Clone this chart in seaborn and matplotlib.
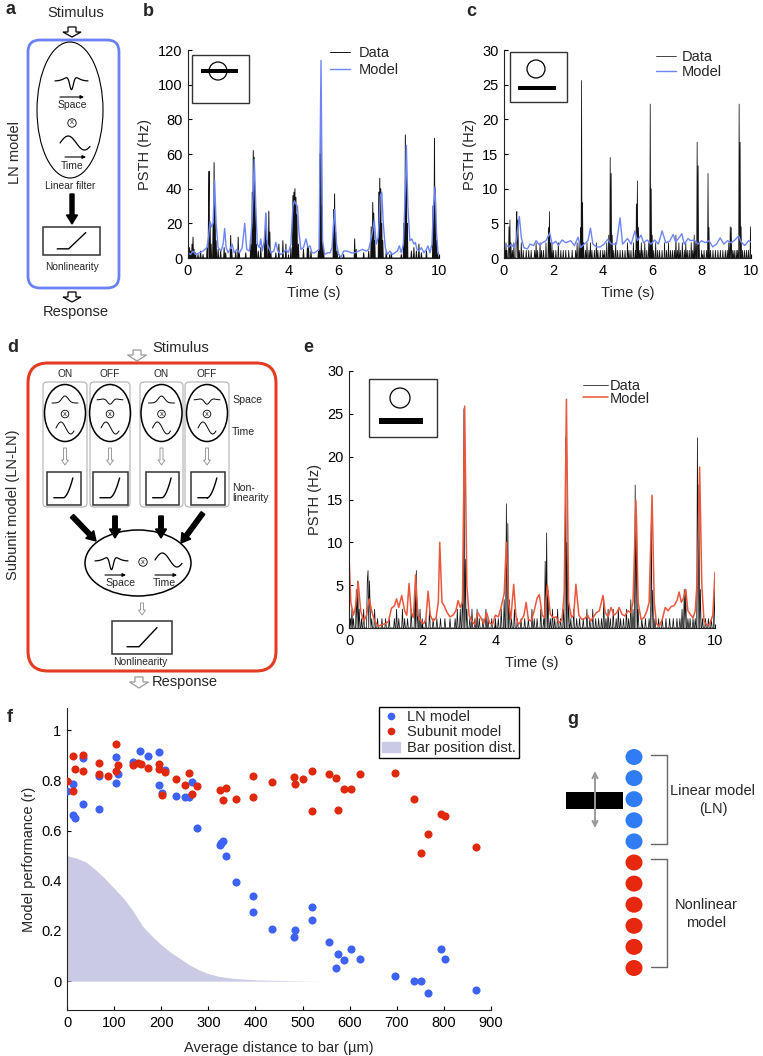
import numpy as np
import pandas as pd
import matplotlib
matplotlib.use("Agg")
import matplotlib.pyplot as plt
from matplotlib.patches import Ellipse, Circle, Rectangle, FancyBboxPatch, Polygon, FancyArrow, Patch
from matplotlib.lines import Line2D
import seaborn as sns

sns.set_theme(style="ticks")
plt.rcParams["font.family"] = ["Liberation Sans", "DejaVu Sans"]
plt.rcParams["axes.linewidth"] = 0.8

# ---------------- data ----------------
# b: bar crossing the receptive field, non-zero PSTH bins (s, Hz)
b_data = [(0.02, 5), (0.06, 6), (0.1, 4), (0.16, 8), (0.2, 12), (0.24, 5), (0.3, 3), (0.4, 2),
          (0.5, 4), (0.6, 2), (0.76, 6), (0.82, 30), (0.84, 50), (0.88, 20), (0.92, 8), (1.0, 20),
          (1.04, 55), (1.08, 30), (1.12, 10), (1.2, 5), (1.3, 4), (1.44, 6), (1.5, 3), (1.7, 13),
          (1.74, 5), (1.9, 4), (2.0, 12), (2.04, 3), (2.3, 3), (2.5, 8), (2.56, 38), (2.6, 62),
          (2.64, 58), (2.68, 30), (2.72, 8), (2.8, 4), (2.9, 6), (3.06, 12), (3.1, 25), (3.14, 10),
          (3.22, 27), (3.26, 15), (3.3, 4), (3.5, 3), (3.62, 8), (3.78, 10), (3.9, 8), (4.1, 6),
          (4.18, 36), (4.22, 38), (4.26, 40), (4.3, 35), (4.34, 25), (4.4, 8), (4.6, 5), (4.76, 8),
          (4.8, 6), (4.9, 4), (5.2, 4), (5.26, 60), (5.3, 78), (5.34, 30), (5.4, 5), (5.8, 28),
          (5.84, 37), (5.88, 15), (5.94, 4), (6.2, 2), (6.64, 11), (6.7, 5), (7.0, 3), (7.2, 4),
          (7.3, 18), (7.36, 32), (7.4, 26), (7.44, 10), (7.6, 38), (7.64, 46), (7.68, 40), (7.72, 20),
          (7.76, 10), (7.9, 4), (8.1, 3), (8.5, 2), (8.6, 20), (8.66, 71), (8.7, 50), (8.74, 20),
          (8.9, 4), (9.0, 6), (9.1, 4), (9.2, 8), (9.3, 3), (9.5, 4), (9.76, 30), (9.82, 69),
          (9.86, 40), (9.9, 10), (9.96, 3)]
b_model = [(0, 3), (0.1, 2), (0.2, 4), (0.3, 2), (0.45, 3), (0.6, 4), (0.75, 6), (0.82, 12), (0.88, 21),
           (0.94, 18), (1.0, 20), (1.06, 45), (1.12, 20), (1.2, 6), (1.32, 4), (1.4, 8), (1.46, 17),
           (1.52, 6), (1.6, 3), (1.7, 6), (1.76, 8), (1.84, 3), (1.95, 5), (2.05, 3), (2.16, 6),
           (2.26, 20), (2.34, 5), (2.45, 4), (2.55, 20), (2.64, 57), (2.7, 30), (2.76, 8), (2.84, 6),
           (2.9, 11), (2.96, 4), (3.04, 10), (3.1, 26), (3.16, 8), (3.22, 6), (3.3, 3), (3.42, 4),
           (3.5, 9), (3.58, 4), (3.7, 2), (3.8, 3), (3.9, 5), (4.0, 3), (4.1, 8), (4.18, 30),
           (4.24, 33), (4.3, 31), (4.36, 30), (4.42, 15), (4.5, 5), (4.6, 6), (4.7, 11), (4.78, 6),
           (4.86, 7), (4.94, 3), (5.04, 3), (5.14, 4), (5.22, 5), (5.3, 114), (5.36, 10), (5.44, 2),
           (5.55, 3), (5.66, 3), (5.74, 6), (5.84, 28), (5.92, 8), (6.0, 2), (6.1, 0.5), (6.2, 4),
           (6.35, 4), (6.5, 3), (6.65, 3), (6.8, 4), (6.95, 5), (7.1, 4), (7.2, 5), (7.28, 10),
           (7.36, 16), (7.42, 22), (7.5, 8), (7.58, 12), (7.66, 36), (7.72, 38), (7.78, 20),
           (7.86, 6), (7.94, 2), (8.04, 4), (8.14, 2), (8.24, 3), (8.34, 4), (8.42, 7), (8.5, 3),
           (8.58, 8), (8.66, 40), (8.7, 65), (8.76, 30), (8.84, 10), (8.92, 11), (9.0, 8), (9.06, 9),
           (9.12, 5), (9.2, 4), (9.3, 6), (9.4, 3), (9.5, 5), (9.56, 7), (9.64, 3), (9.72, 8),
           (9.78, 30), (9.84, 41), (9.9, 15), (9.96, 3), (10.0, 1)]

# c / e: bar outside the receptive field (same recording), non-zero PSTH bins
far_data = [(0.04, 1.1), (0.08, 2.2), (0.12, 1.1), (0.2, 4.5), (0.24, 5.5), (0.28, 2.2), (0.34, 1.1),
            (0.4, 2.2), (0.5, 5.5), (0.52, 6.7), (0.56, 5.5), (0.58, 2.2), (0.62, 1.1), (0.7, 2.2),
            (0.78, 1.1), (0.9, 1.1), (1.0, 1.1), (1.1, 1.1), (1.24, 1.1), (1.3, 2.2), (1.36, 1.1),
            (1.46, 2.2), (1.52, 1.1), (1.6, 1.1), (1.7, 2.2), (1.8, 4.4), (1.84, 6.7), (1.88, 2.2),
            (1.94, 2.2), (2.0, 1.1), (2.1, 1.1), (2.2, 2.2), (2.3, 1.1), (2.4, 1.1), (2.5, 1.1),
            (2.62, 1.1), (2.76, 1.1), (2.9, 1.1), (2.96, 2.2), (3.04, 2.2), (3.1, 4.4), (3.14, 25.6),
            (3.18, 8), (3.22, 2.2), (3.3, 1.1), (3.36, 2.2), (3.44, 1.1), (3.5, 2.2), (3.56, 1.1),
            (3.66, 1.1), (3.74, 2.2), (3.8, 1.1), (3.9, 1.1), (4.0, 1.1), (4.08, 1.1), (4.16, 2.2),
            (4.24, 3.3), (4.3, 14.5), (4.34, 12.2), (4.38, 3.3), (4.44, 1.1), (4.52, 2.2), (4.6, 1.1),
            (4.7, 1.1), (4.8, 1.1), (4.9, 1.1), (5.0, 2.2), (5.06, 1.1), (5.14, 1.1), (5.24, 2.2),
            (5.32, 1.1), (5.36, 7.8), (5.4, 11.1), (5.44, 4.4), (5.5, 1.1), (5.56, 2.2), (5.62, 1.1),
            (5.7, 2.2), (5.78, 1.1), (5.86, 2.2), (5.92, 22.2), (5.96, 10), (6.0, 3.3), (6.06, 1.1),
            (6.14, 2.2), (6.22, 1.1), (6.3, 1.1), (6.4, 1.1), (6.5, 2.2), (6.58, 1.1), (6.66, 2.2),
            (6.74, 1.1), (6.82, 1.1), (6.9, 1.1), (6.96, 3.3), (7.02, 1.1), (7.08, 2.2), (7.14, 1.1),
            (7.22, 2.2), (7.3, 1.1), (7.36, 2.2), (7.42, 1.1), (7.5, 1.1), (7.58, 2.2), (7.64, 1.1),
            (7.7, 3.3), (7.76, 2.2), (7.82, 16.7), (7.86, 13.3), (7.9, 2.2), (8.0, 1.1), (8.1, 1.1),
            (8.2, 1.1), (8.26, 12.2), (8.3, 4.4), (8.36, 1.1), (8.46, 1.1), (8.56, 1.1), (8.66, 1.1),
            (8.76, 1.1), (8.86, 1.1), (8.96, 1.1), (9.04, 1.1), (9.1, 2.2), (9.16, 4.5), (9.2, 4.4),
            (9.26, 1.1), (9.32, 1.1), (9.4, 1.1), (9.46, 1.1), (9.52, 22.2), (9.56, 16.7), (9.6, 4.5),
            (9.66, 1.1), (9.74, 1.1), (9.82, 1.1), (9.9, 1.1), (9.98, 4.5)]
c_model = [(0, 1.5), (0.1, 1.8), (0.2, 1.6), (0.3, 2.0), (0.4, 1.5), (0.5, 2.5), (0.62, 6.0), (0.7, 3.0),
           (0.8, 1.5), (0.95, 1.3), (1.05, 2.0), (1.2, 1.8), (1.3, 2.5), (1.45, 1.8), (1.55, 2.2),
           (1.7, 2.5), (1.85, 3.6), (1.95, 2.0), (2.1, 2.4), (2.2, 1.8), (2.35, 2.6), (2.5, 2.2),
           (2.7, 2.5), (2.85, 1.8), (3.0, 3.0), (3.1, 1.5), (3.25, 2.0), (3.4, 2.5), (3.5, 4.3),
           (3.6, 2.0), (3.75, 1.6), (3.9, 1.6), (4.05, 2.0), (4.2, 2.7), (4.35, 2.0), (4.55, 2.0),
           (4.7, 5.8), (4.8, 2.0), (5.0, 2.8), (5.15, 2.0), (5.3, 3.9), (5.4, 2.5), (5.55, 3.3),
           (5.65, 2.2), (5.8, 2.6), (5.95, 2.0), (6.1, 2.6), (6.25, 2.0), (6.4, 3.9), (6.55, 2.2),
           (6.7, 2.4), (6.85, 3.4), (6.95, 2.3), (7.1, 3.0), (7.2, 3.5), (7.3, 2.0), (7.45, 2.8),
           (7.55, 2.5), (7.7, 2.6), (7.85, 2.0), (8.0, 2.5), (8.15, 2.2), (8.3, 2.5), (8.45, 1.6),
           (8.6, 2.0), (8.75, 2.9), (8.9, 2.0), (9.05, 2.5), (9.2, 2.2), (9.35, 2.6), (9.5, 3.2),
           (9.6, 2.3), (9.75, 1.8), (9.9, 2.5), (10.0, 2.3)]
e_model = [(0, 8.4), (0.05, 3), (0.12, 1.5), (0.18, 2.5), (0.25, 5.4), (0.32, 2), (0.4, 0.8), (0.48, 1.5),
           (0.55, 3.4), (0.62, 2), (0.7, 0.8), (0.8, 0.2), (0.9, 0.4), (1.0, 0.5), (1.08, 0.8),
           (1.16, 2.3), (1.24, 2.6), (1.3, 3.4), (1.36, 2.4), (1.44, 3.8), (1.52, 2), (1.58, 1.5),
           (1.64, 5.2), (1.7, 1.8), (1.76, 1.2), (1.82, 6.2), (1.88, 1.5), (1.96, 0.8), (2.04, 0.5),
           (2.1, 1), (2.16, 4.3), (2.22, 1.5), (2.3, 0.8), (2.38, 1.2), (2.44, 3), (2.48, 10),
           (2.54, 3), (2.6, 2.6), (2.68, 1.8), (2.76, 1.3), (2.84, 1.5), (2.92, 2), (2.98, 3.2),
           (3.04, 2.4), (3.1, 3), (3.16, 25.9), (3.22, 5), (3.28, 1.5), (3.36, 0.8), (3.44, 0.4),
           (3.52, 1.8), (3.6, 1.2), (3.68, 0.5), (3.76, 1.8), (3.84, 0.6), (3.92, 0.4), (4.0, 1.5),
           (4.08, 1.3), (4.16, 2.5), (4.24, 4), (4.3, 10), (4.36, 3), (4.42, 1), (4.5, 5.1),
           (4.56, 1.5), (4.62, 0.4), (4.7, 0.8), (4.78, 1.5), (4.84, 3), (4.9, 1), (4.98, 0.8),
           (5.06, 2), (5.14, 3.5), (5.2, 3.9), (5.28, 1.5), (5.34, 1.2), (5.42, 5), (5.5, 1.6),
           (5.58, 1.2), (5.66, 1.3), (5.74, 0.6), (5.82, 1), (5.88, 4), (5.94, 26.7), (6.0, 3),
           (6.08, 1.2), (6.14, 1.5), (6.2, 5.1), (6.28, 1.5), (6.36, 1), (6.44, 1.1), (6.52, 1.5),
           (6.6, 0.8), (6.68, 1.3), (6.76, 1.8), (6.84, 2), (6.94, 3.8), (7.0, 1.8), (7.08, 1.3),
           (7.16, 2.4), (7.24, 1.5), (7.32, 1.8), (7.38, 2.4), (7.46, 1.6), (7.54, 1.4), (7.62, 2),
           (7.7, 1.8), (7.76, 3), (7.84, 14.9), (7.9, 3), (7.98, 1), (8.06, 1.2), (8.14, 2), (8.2, 3),
           (8.28, 15.5), (8.34, 3), (8.4, 0.5), (8.48, 0.2), (8.56, 1), (8.64, 2.4), (8.72, 2),
           (8.8, 2.5), (8.88, 2.6), (8.96, 3.2), (9.02, 4.2), (9.08, 3), (9.14, 3.5), (9.2, 4.5),
           (9.26, 2), (9.34, 1.5), (9.4, 1.2), (9.46, 2), (9.52, 6), (9.58, 18.8), (9.64, 5),
           (9.7, 0.8), (9.78, 0.3), (9.86, 0.5), (9.94, 1.5), (10.0, 6.5)]

# f: average distance to bar (um) vs model performance (r)
ln_perf = [(0, 0.758), (13, 0.785), (13, 0.663), (18, 0.651), (33, 0.89), (33, 0.704), (68, 0.685),
           (68, 0.817), (105, 0.891), (105, 0.789), (109, 0.827), (141, 0.874), (156, 0.916),
           (171, 0.895), (196, 0.911), (196, 0.78), (201, 0.748), (208, 0.843), (232, 0.737),
           (251, 0.733), (258, 0.733), (265, 0.793), (275, 0.611), (324, 0.542), (327, 0.551),
           (332, 0.56), (338, 0.499), (358, 0.396), (394, 0.339), (394, 0.276), (436, 0.207),
           (481, 0.177), (483, 0.203), (521, 0.295), (521, 0.243), (556, 0.155), (576, 0.11),
           (572, 0.053), (588, 0.086), (603, 0.129), (622, 0.088), (697, 0.021), (737, 0.0),
           (752, 0.0), (766, -0.046), (794, 0.127), (803, 0.09), (868, -0.036)]
su_perf = [(0, 0.798), (13, 0.756), (13, 0.895), (18, 0.846), (33, 0.899), (33, 0.838), (68, 0.869),
           (68, 0.825), (87, 0.818), (105, 0.943), (105, 0.837), (109, 0.862), (141, 0.859),
           (151, 0.87), (158, 0.865), (171, 0.849), (196, 0.866), (196, 0.846), (201, 0.741),
           (208, 0.835), (232, 0.805), (251, 0.78), (258, 0.83), (265, 0.746), (275, 0.777),
           (324, 0.761), (332, 0.72), (338, 0.768), (358, 0.725), (394, 0.817), (394, 0.732),
           (436, 0.792), (481, 0.814), (483, 0.785), (502, 0.807), (521, 0.839), (521, 0.679),
           (556, 0.827), (572, 0.811), (576, 0.683), (588, 0.766), (603, 0.764), (622, 0.827),
           (697, 0.83), (737, 0.724), (752, 0.51), (766, 0.587), (794, 0.664), (803, 0.657),
           (868, 0.535)]
bar_pos = [(0, 0.5), (20, 0.49), (40, 0.475), (60, 0.445), (80, 0.41), (100, 0.37), (120, 0.33),
           (140, 0.28), (160, 0.22), (180, 0.18), (200, 0.145), (220, 0.115), (240, 0.09),
           (260, 0.065), (280, 0.045), (300, 0.03), (320, 0.02), (340, 0.014), (360, 0.01),
           (400, 0.005), (450, 0.003), (500, 0.001), (555, 0.0)]

# g: cells in a column next to the bar
g_cells = ["LN"] * 5 + ["NL"] * 6

BLUE_LINE = "#6d86f4"
RED_LINE = "#e9573d"
BLUE_DOT = "#3d63f6"
RED_DOT = "#e0290c"
LAVENDER = "#cacae5"
BOX_BLUE = "#6a82f2"
BOX_RED = "#e53b22"
GRAY = "#9a9a9a"
FS = 10.5

W, H = 763, 1056
BIN = 0.02
bins = np.round(np.arange(0, 10 + BIN / 2, BIN), 2)


def rect(x0, y0, x1, y1):
    return [x0 / W, 1 - y1 / H, (x1 - x0) / W, (y1 - y0) / H]


def psth(pairs):
    t, v = zip(*pairs)
    return pd.Series(v, index=np.round(t, 2)).groupby(level=0).max().reindex(bins, fill_value=0.0)


def to_df(pairs, xcol, ycol):
    return pd.DataFrame(pairs, columns=[xcol, ycol])


def style_axes(ax, xlim, ylim, xticks, yticks, ylabels=None):
    ax.set_xlim(*xlim)
    ax.set_ylim(*ylim)
    ax.set_xticks(xticks)
    ax.set_yticks(yticks)
    if ylabels is not None:
        ax.set_yticklabels(ylabels)
    sns.despine(ax=ax)
    ax.tick_params(direction="in", length=3, width=0.8, labelsize=FS, colors="black", pad=4)
    for s in ["left", "bottom"]:
        ax.spines[s].set_color("#222222")


fig = plt.figure(figsize=(W / 100, H / 100), dpi=100)

# ---------------- b ----------------
ax_b = fig.add_axes(rect(188, 50, 439, 258))
tr = psth(b_data)
sns.lineplot(x=tr.index, y=tr.values, ax=ax_b, color="#111111", lw=0.7, label="Data")
mb = to_df(b_model, "t", "v")
sns.lineplot(data=mb, x="t", y="v", ax=ax_b, color=BLUE_LINE, lw=1.0, label="Model", sort=False)
style_axes(ax_b, (0, 10), (0, 120), range(0, 11, 2), range(0, 121, 20))
ax_b.set_xlabel("Time (s)", fontsize=FS, labelpad=6)
ax_b.set_ylabel("PSTH (Hz)", fontsize=FS)
ax_b.legend(loc="upper left", bbox_to_anchor=(330 / W, 1 - 46 / H), bbox_transform=fig.transFigure,
            frameon=False, fontsize=FS, handlelength=1.35, handletextpad=0.6, labelspacing=0.2,
            borderpad=0, borderaxespad=0)

# ---------------- c ----------------
far = psth(far_data)
ax_c = fig.add_axes(rect(504, 50, 751, 258))
sns.lineplot(x=far.index, y=far.values, ax=ax_c, color="#111111", lw=0.55, label="Data")
mc = to_df(c_model, "t", "v")
sns.lineplot(data=mc, x="t", y="v", ax=ax_c, color=BLUE_LINE, lw=1.0, label="Model", sort=False)
style_axes(ax_c, (0, 10), (0, 30), range(0, 11, 2), range(0, 31, 5))
ax_c.set_xlabel("Time (s)", fontsize=FS, labelpad=6)
ax_c.set_ylabel("PSTH (Hz)", fontsize=FS)
ax_c.legend(loc="upper left", bbox_to_anchor=(656 / W, 1 - 50 / H), bbox_transform=fig.transFigure,
            frameon=False, fontsize=FS, handlelength=1.35, handletextpad=0.4, labelspacing=0.05,
            borderpad=0, borderaxespad=0)

# ---------------- e ----------------
ax_e = fig.add_axes(rect(349, 371, 715, 628))
sns.lineplot(x=far.index, y=far.values, ax=ax_e, color="#111111", lw=0.55, label="Data")
me = to_df(e_model, "t", "v")
sns.lineplot(data=me, x="t", y="v", ax=ax_e, color=RED_LINE, lw=1.1, label="Model", sort=False)
style_axes(ax_e, (0, 10), (0, 30), range(0, 11, 2), range(0, 31, 5))
ax_e.set_xlabel("Time (s)", fontsize=FS, labelpad=6)
ax_e.set_ylabel("PSTH (Hz)", fontsize=FS)
ax_e.legend(loc="upper left", bbox_to_anchor=(583 / W, 1 - 379 / H), bbox_transform=fig.transFigure,
            frameon=False, fontsize=FS, handlelength=1.7, handletextpad=0.15, labelspacing=-0.1,
            borderpad=0, borderaxespad=0)

# ---------------- f ----------------
ax_f = fig.add_axes(rect(67, 708, 491, 1010))
bp = to_df(bar_pos, "dist", "p")
ax_f.fill_between(bp["dist"], 0, bp["p"], color=LAVENDER, lw=0, zorder=1)
ln = to_df(ln_perf, "dist", "r")
su = to_df(su_perf, "dist", "r")
sns.scatterplot(data=ln, x="dist", y="r", ax=ax_f, color=BLUE_DOT, s=34, linewidth=0, zorder=3)
sns.scatterplot(data=su, x="dist", y="r", ax=ax_f, color=RED_DOT, s=34, linewidth=0, zorder=4)
style_axes(ax_f, (0, 900), (-0.115, 1.088), range(0, 901, 100), [0, 0.2, 0.4, 0.6, 0.8, 1],
           ["0", "0.2", "0.4", "0.6", "0.8", "1"])
ax_f.set_xlabel("Average distance to bar (\u00b5m)", fontsize=FS, labelpad=8)
ax_f.set_ylabel("Model performance (r)", fontsize=FS)
handles = [Line2D([], [], marker="o", ls="none", color=BLUE_DOT, markersize=4.5),
           Line2D([], [], marker="o", ls="none", color=RED_DOT, markersize=4.5),
           Patch(color=LAVENDER)]
leg = ax_f.legend(handles, ["LN model", "Subunit model", "Bar position dist."], loc="upper left",
                  bbox_to_anchor=(379 / W, 1 - 707 / H), bbox_transform=fig.transFigure,
                  fontsize=FS, frameon=True, fancybox=False, framealpha=1, edgecolor="black",
                  handlelength=1.25, handletextpad=0.45, labelspacing=0.1, borderpad=0.2,
                  borderaxespad=0)
leg.get_frame().set_linewidth(1.0)

# ---------------- overlay for schematics and panel letters ----------------
ov = fig.add_axes([0, 0, 1, 1], zorder=10)
ov.set_xlim(0, W)
ov.set_ylim(H, 0)
ov.axis("off")
ov.patch.set_alpha(0)


def hollow(x, y0, y1, color, shaft, head, headlen, lw=0.9):
    pts = [(x - shaft / 2, y0), (x - shaft / 2, y1 - headlen), (x - head / 2, y1 - headlen), (x, y1),
           (x + head / 2, y1 - headlen), (x + shaft / 2, y1 - headlen), (x + shaft / 2, y0)]
    ov.add_patch(Polygon(pts, closed=True, fc="white", ec=color, lw=lw))


def otimes(x, y, r=4.2):
    ov.add_patch(Circle((x, y), r, fc="white", ec="black", lw=0.6))
    ov.text(x, y, "x", ha="center", va="center", fontsize=5.5)


def small_arrow(x0, x1, y):
    ov.annotate("", xy=(x1, y), xytext=(x0, y),
                arrowprops=dict(arrowstyle="-|>", lw=0.8, color="black", mutation_scale=5,
                                shrinkA=0, shrinkB=0))


def glyph(x0, x1, yc, amp, kind, lw=0.9):
    u = np.linspace(-1, 1, 80)
    if kind == "dog":
        f = -(np.exp(-(u / 0.16) ** 2) - 0.38 * np.exp(-(u / 0.5) ** 2))
    elif kind == "bump":
        f = np.exp(-(u / 0.35) ** 2)
    elif kind == "dip":
        f = -(np.exp(-(u / 0.3) ** 2) - 0.4 * np.exp(-(u / 0.6) ** 2))
    else:
        f = np.sin(np.pi * (u + 1) * 0.92)
    ov.plot(x0 + (u + 1) / 2 * (x1 - x0), yc - amp * f, color="black", lw=lw, solid_capstyle="round")


def nonlin(x0, y0, x1, y1, kind):
    ov.add_patch(Rectangle((x0, y0), x1 - x0, y1 - y0, fc="white", ec="#333333", lw=1.1))
    w, h = x1 - x0, y1 - y0
    if kind == "relu":
        xs = [x0 + 0.25 * w, x0 + 0.45 * w, x0 + 0.75 * w]
        ys = [y0 + 0.78 * h, y0 + 0.78 * h, y0 + 0.2 * h]
    else:
        q = np.linspace(0, 1, 30)
        xs = list(x0 + 0.2 * w + 0.28 * w * np.linspace(0, 1, 10))
        ys = list(np.full(10, y0 + 0.78 * h))
        xs += list(x0 + 0.48 * w + 0.28 * w * q)
        ys += list(y0 + 0.78 * h - 0.6 * h * q ** 1.8)
    ov.plot(xs, ys, color="black", lw=1.0)


for lab, (x, y) in zip("abcdefg", [(5, 10), (143, 12), (466, 12), (7, 348), (303, 348), (7, 717), (567, 720)]):
    ov.text(x, y, lab, fontsize=13, fontweight="bold", ha="left", va="center")

# a: LN model
ov.text(76, 13, "Stimulus", ha="center", va="center", fontsize=FS)
hollow(72, 27, 37, "black", 8, 18, 5)
ov.add_patch(FancyBboxPatch((28, 40), 91, 248, boxstyle="round,pad=0,rounding_size=12",
                            fc="none", ec=BOX_BLUE, lw=2.0))
ov.text(15, 153, "LN model", rotation=90, ha="center", va="center", fontsize=FS)
ov.add_patch(Ellipse((70, 110), 66, 136, fc="none", ec="black", lw=0.8))
glyph(55, 88, 81, 14, "dog")
small_arrow(60, 84, 97)
ov.text(72, 105, "Space", ha="center", va="center", fontsize=7.5)
otimes(72, 123)
glyph(60, 90, 143, 7, "sine")
small_arrow(65, 86, 157)
ov.text(72, 166, "Time", ha="center", va="center", fontsize=7.5)
ov.text(70, 186, "Linear filter", ha="center", va="center", fontsize=7.3)
ov.add_patch(FancyArrow(72, 194, 0, 30, width=4, head_width=11, head_length=9,
                        length_includes_head=True, color="black"))
nonlin(43, 227, 100, 255, "relu")
ov.text(72, 267, "Nonlinearity", ha="center", va="center", fontsize=7.3)
hollow(72, 292, 302, "black", 8, 18, 5)
ov.text(76, 312, "Response", ha="center", va="center", fontsize=FS)

# d: subunit model
hollow(137, 350, 361, GRAY, 8, 19, 6)
ov.text(152, 348, "Stimulus", ha="left", va="center", fontsize=FS)
ov.add_patch(FancyBboxPatch((28, 363), 248, 308, boxstyle="round,pad=0,rounding_size=20",
                            fc="none", ec=BOX_RED, lw=2.2))
ov.text(13, 505, "Subunit model (LN-LN)", rotation=90, ha="center", va="center", fontsize=FS)
sub_boxes = [(43, 87), (90, 130), (140, 183), (185, 229)]
sub_nl = [(47, 81), (93, 128), (146, 179), (191, 225)]
for i, ((bx0, bx1), (nx0, nx1)) in enumerate(zip(sub_boxes, sub_nl)):
    cx = (bx0 + bx1) / 2
    ov.add_patch(FancyBboxPatch((bx0, 382), bx1 - bx0, 125, boxstyle="round,pad=0,rounding_size=4",
                                fc="none", ec="#b0b0b0", lw=0.8))
    ov.text(cx, 374, "ON" if i % 2 == 0 else "OFF", ha="center", va="center", fontsize=7.3)
    ov.add_patch(Ellipse((cx, 413), 41, 57, fc="none", ec="black", lw=1.1))
    glyph(cx - 13, cx + 13, 403 if i % 2 == 0 else 400, 7, "bump" if i % 2 == 0 else "dip", lw=0.7)
    otimes(cx, 414, r=3.8)
    glyph(cx - 9, cx + 9, 428, 6, "sine", lw=0.7)
    hollow(cx, 448, 465, GRAY, 3, 7, 5, lw=0.7)
    nonlin(nx0, 472, nx1, 505, "soft")
ov.text(232, 400, "Space", ha="left", va="center", fontsize=7.6)
ov.text(232, 432, "Time", ha="left", va="center", fontsize=7.6)
ov.text(232, 493, "Non-\nlinearity", ha="left", va="center", fontsize=7.6, linespacing=1.1)
for (x0, y0, x1, y1) in [(72, 516, 96, 541), (115, 516, 115, 538), (161, 516, 161, 538), (203, 513, 181, 543)]:
    ov.add_patch(FancyArrow(x0, y0, x1 - x0, y1 - y0, width=4.5, head_width=11, head_length=9,
                            length_includes_head=True, color="black"))
ov.add_patch(Ellipse((138, 563), 106, 66, fc="none", ec="black", lw=1.1))
glyph(95, 128, 561, 14, "dog")
small_arrow(105, 126, 575)
ov.text(120, 583, "Space", ha="center", va="center", fontsize=7.6)
otimes(143, 562)
glyph(155, 182, 560, 7, "sine")
small_arrow(155, 177, 575)
ov.text(164, 583, "Time", ha="center", va="center", fontsize=7.6)
hollow(142, 603, 615, GRAY, 3, 7, 5, lw=0.7)
nonlin(112, 621, 172, 654, "relu")
ov.text(140, 662, "Nonlinearity", ha="center", va="center", fontsize=7.4)
hollow(139, 677, 688, GRAY, 8, 19, 6)
ov.text(152, 682, "Response", ha="left", va="center", fontsize=FS)

# b, c, e stimulus insets
for (x0, y0, x1, y1), (cx, cy, r), (bx0, bx1, by, bh) in [
        ((192, 55, 249, 103), (218, 71, 9), (201, 238, 71, 4.5)),
        ((510, 52, 567, 102), (536, 69, 9), (518, 556, 88, 4.5)),
        ((369, 379, 437, 437), (400, 398, 10), (379, 423, 421, 5.5))]:
    ov.add_patch(Rectangle((x0, y0), x1 - x0, y1 - y0, fc="white", ec="#333333", lw=1.0))
    ov.add_patch(Circle((cx, cy), r, fc="none", ec="black", lw=0.9))
    ov.add_patch(Rectangle((bx0, by - bh / 2), bx1 - bx0, bh, fc="black", ec="none"))

# g: cells and bar
for i, cell in enumerate(g_cells):
    ov.add_patch(Ellipse((634, 757 + i * 21.1), 17, 16, color="#2f7cf5" if cell == "LN" else "#e8280e", lw=0))
ov.add_patch(Rectangle((566, 792), 57, 17, fc="black", ec="none"))
ov.annotate("", xy=(595, 771), xytext=(595, 828),
            arrowprops=dict(arrowstyle="<->", color=GRAY, lw=1.4, mutation_scale=9, shrinkA=0, shrinkB=0))
ov.plot([651, 667, 667, 651], [755, 755, 844, 844], color="#666666", lw=1.0)
ov.plot([651, 667, 667, 651], [859, 859, 967, 967], color="#666666", lw=1.0)
ov.text(713, 800, "Linear model\n(LN)", ha="center", va="center", fontsize=FS, linespacing=1.3)
ov.text(706, 914, "Nonlinear\nmodel", ha="center", va="center", fontsize=FS, linespacing=1.3)

fig.savefig("out.png", dpi=100)
